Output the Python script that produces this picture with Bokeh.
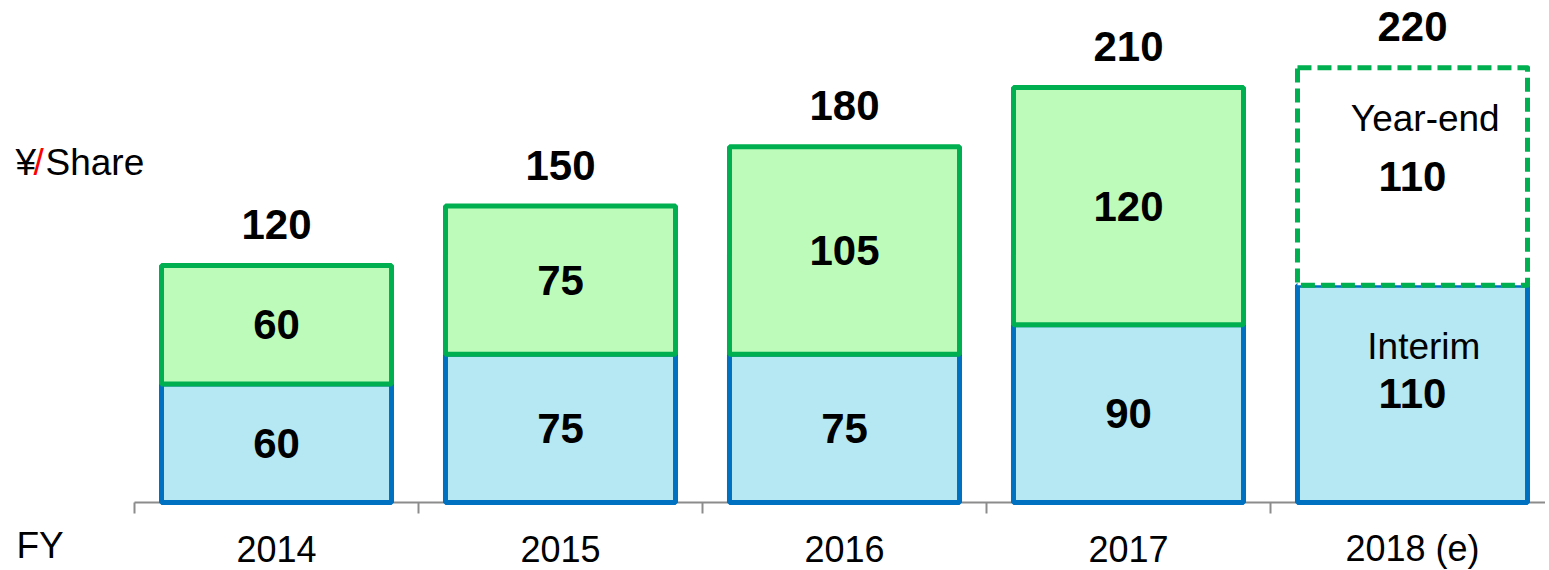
from bokeh.plotting import figure
from bokeh.models import Range1d, ColumnDataSource
from bokeh.embed import file_html
from bokeh.resources import INLINE
from bokeh.core.properties import value

categories = ["2014", "2015", "2016", "2017", "2018 (e)"]
interim = [60, 75, 75, 90, 110]
year_end = [60, 75, 105, 120, 110]
estimated = [False, False, False, False, True]
series_names = ["Interim", "Year-end"]
unit_label = ["¥", "/", "Share"]
fy_label = "FY"

FONT = "Liberation Sans"
BLUE_LINE = "#0070C0"
BLUE_FILL = "#B6E8F3"
GREEN_LINE = "#00B050"
GREEN_FILL = "#BDFBBA"
AXIS_GREY = "#8C8C8C"

W, H = 1545, 570
LEFT_PX, BASE_PX, CAT_PX, UNIT_PX = 134, 502, 284.0, 1.976

n = len(categories)
xs = [i + 0.5 for i in range(n)]
totals = [a + b for a, b in zip(interim, year_end)]

p = figure(width=W, height=H, output_backend="svg", toolbar_location=None,
           x_range=Range1d(-LEFT_PX / CAT_PX, (W - LEFT_PX) / CAT_PX),
           y_range=Range1d(-(H - BASE_PX) / UNIT_PX, BASE_PX / UNIT_PX),
           x_axis_location=None, y_axis_location=None,
           min_border_left=0, min_border_right=0, min_border_top=0, min_border_bottom=0)
p.xgrid.visible = False
p.ygrid.visible = False
p.outline_line_color = None
p.background_fill_color = "white"

# category axis: baseline and boundary ticks
x_end = (W - LEFT_PX) / CAT_PX + 0.1
p.segment(x0=[0], y0=[0], x1=[x_end], y1=[0], line_color=AXIS_GREY, line_width=2)
bounds = list(range(n + 1))
p.segment(x0=bounds, y0=[0] * len(bounds), x1=bounds, y1=[-11 / UNIT_PX] * len(bounds),
          line_color=AXIS_GREY, line_width=2)

# Interim bars
src_i = ColumnDataSource(dict(x=xs, top=interim))
p.vbar(x="x", top="top", bottom=0, width=0.81, source=src_i,
       fill_color=BLUE_FILL, line_color=BLUE_LINE, line_width=5)

# Year-end bars
a_idx = [i for i in range(n) if not estimated[i]]
e_idx = [i for i in range(n) if estimated[i]]
src_ya = ColumnDataSource(dict(x=[xs[i] for i in a_idx], bottom=[interim[i] for i in a_idx],
                               top=[totals[i] for i in a_idx]))
p.vbar(x="x", top="top", bottom="bottom", width=0.81, source=src_ya,
       fill_color=GREEN_FILL, line_color=GREEN_LINE, line_width=5)
src_ye = ColumnDataSource(dict(x=[xs[i] for i in e_idx], bottom=[interim[i] for i in e_idx],
                               top=[totals[i] for i in e_idx]))
p.vbar(x="x", top="top", bottom="bottom", width=0.81, source=src_ye,
       fill_color="white", line_color=GREEN_LINE, line_width=5, line_dash="14 6",
       line_join="round")

bold = dict(text_font=value(FONT), text_font_style="bold", text_font_size="42px",
            text_align="center", text_baseline="middle", text_color="black")
reg = dict(text_font=value(FONT), text_font_size="37px",
           text_baseline="middle", text_color="black")

# Value labels
p.text(x=xs, y=[v / 2 for v in interim], text=[str(v) for v in interim], **bold)
p.text(x=xs, y=[a + b / 2 for a, b in zip(interim, year_end)],
       text=[str(v) for v in year_end], **bold)
p.text(x=xs, y=totals, text=[str(v) for v in totals], y_offset=-41, **bold)

# series names in estimated bar
for i in e_idx:
    p.text(x=[xs[i] + 0.04], y=[interim[i] / 2], text=[series_names[0]], y_offset=-47,
           text_align="center", **reg)
    p.text(x=[xs[i] + 0.045], y=[interim[i] + year_end[i] / 2], text=[series_names[1]],
           y_offset=-58, text_align="center", **reg)

# category labels
p.text(x=xs, y=[-46 / UNIT_PX] * n, text=categories, text_align="center",
       **dict(reg, text_font_size="36px"))

# unit and FY labels
p.text(x=[(15 - LEFT_PX) / CAT_PX], y=[(BASE_PX - 162) / UNIT_PX], text=[unit_label[0]],
       text_align="left", **reg)
p.text(x=[(33 - LEFT_PX) / CAT_PX], y=[(BASE_PX - 162) / UNIT_PX], text=[unit_label[1]],
       text_align="left", **dict(reg, text_color="#FF0000"))
p.text(x=[(45 - LEFT_PX) / CAT_PX], y=[(BASE_PX - 162) / UNIT_PX], text=[unit_label[2]],
       text_align="left", **reg)
p.text(x=[(16 - LEFT_PX) / CAT_PX], y=[(BASE_PX - 545) / UNIT_PX], text=[fy_label],
       text_align="left", **reg)

open("out.html", "w").write(file_html(p, INLINE))
